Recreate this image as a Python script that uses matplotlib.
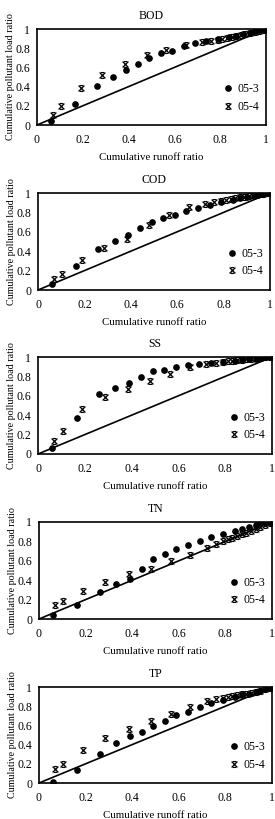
import numpy as np
import matplotlib
matplotlib.use("Agg")
import matplotlib.pyplot as plt
from matplotlib.path import Path

plt.rcParams['font.family'] = ['Liberation Serif', 'DejaVu Serif']

# cumulative runoff ratio (x) for the two events
x_053 = [0.06, 0.165, 0.26, 0.33, 0.39, 0.44, 0.49, 0.54, 0.59, 0.64, 0.69,
         0.74, 0.79, 0.84, 0.87, 0.90, 0.93, 0.95, 0.97, 0.99, 1.0]
x_054 = [0.07, 0.105, 0.19, 0.285, 0.385, 0.48, 0.565, 0.65, 0.72, 0.76, 0.79,
         0.81, 0.83, 0.85, 0.87, 0.89, 0.91, 0.93, 0.95, 0.97, 0.99, 1.0]

pollutants = ['BOD', 'COD', 'SS', 'TN', 'TP']

y_053 = {
    'BOD': [0.045, 0.215, 0.41, 0.505, 0.575, 0.64, 0.70, 0.745, 0.775, 0.82, 0.85,
            0.875, 0.895, 0.915, 0.93, 0.945, 0.96, 0.975, 0.985, 0.995, 1.0],
    'COD': [0.058, 0.245, 0.42, 0.503, 0.566, 0.638, 0.70, 0.738, 0.772, 0.814, 0.845,
            0.879, 0.91, 0.93, 0.945, 0.96, 0.97, 0.98, 0.99, 0.995, 1.0],
    'SS':  [0.065, 0.37, 0.62, 0.68, 0.728, 0.797, 0.852, 0.869, 0.893, 0.914, 0.931,
            0.941, 0.95, 0.96, 0.965, 0.975, 0.98, 0.99, 0.995, 1.0, 1.0],
    'TN':  [0.045, 0.145, 0.276, 0.359, 0.414, 0.52, 0.614, 0.669, 0.717, 0.766, 0.80,
            0.845, 0.876, 0.905, 0.93, 0.95, 0.965, 0.975, 0.985, 0.995, 1.0],
    'TP':  [0.01, 0.135, 0.30, 0.42, 0.49, 0.535, 0.594, 0.65, 0.705, 0.743, 0.79,
            0.83, 0.868, 0.90, 0.92, 0.93, 0.945, 0.96, 0.975, 0.99, 1.0],
}
y_054 = {
    'BOD': [0.107, 0.193, 0.39, 0.524, 0.631, 0.728, 0.786, 0.838, 0.866, 0.88, 0.89,
            0.90, 0.91, 0.92, 0.93, 0.94, 0.95, 0.96, 0.97, 0.98, 0.99, 1.0],
    'COD': [0.11, 0.165, 0.307, 0.428, 0.528, 0.666, 0.769, 0.852, 0.89, 0.905, 0.915,
            0.925, 0.935, 0.945, 0.955, 0.96, 0.97, 0.975, 0.985, 0.99, 0.995, 1.0],
    'SS':  [0.138, 0.234, 0.459, 0.586, 0.672, 0.755, 0.824, 0.893, 0.928, 0.94, 0.95,
            0.955, 0.96, 0.965, 0.97, 0.975, 0.98, 0.985, 0.99, 0.995, 1.0, 1.0],
    'TN':  [0.145, 0.19, 0.29, 0.38, 0.46, 0.517, 0.593, 0.655, 0.731, 0.773, 0.80,
            0.82, 0.84, 0.86, 0.875, 0.89, 0.905, 0.925, 0.945, 0.965, 0.985, 1.0],
    'TP':  [0.146, 0.198, 0.344, 0.469, 0.566, 0.642, 0.719, 0.795, 0.85, 0.878, 0.89,
            0.90, 0.91, 0.92, 0.925, 0.93, 0.94, 0.95, 0.96, 0.975, 0.99, 1.0],
}

ticks = [0, 0.2, 0.4, 0.6, 0.8, 1]
tick_labels = ['0', '0.2', '0.4', '0.6', '0.8', '1']

# x-with-bars marker (like Excel's "x")
xbar = Path([(-1, 1), (1, -1), (1, 1), (-1, -1), (-0.6, 1), (0.6, 1), (-0.6, -1), (0.6, -1)],
            [Path.MOVETO, Path.LINETO, Path.MOVETO, Path.LINETO,
             Path.MOVETO, Path.LINETO, Path.MOVETO, Path.LINETO])

W, H = 275, 819
fig = plt.figure(figsize=(W / 100, H / 100), dpi=100)

# panel boxes in pixels: left, right, top, bottom
boxes = [(37, 266, 29, 125), (38, 270, 193, 290), (38, 272, 357, 454),
         (39, 272, 522, 619), (39, 272, 687, 783)]

for name, (l, r, t, b) in zip(pollutants, boxes):
    ax = fig.add_axes([l / W, 1 - b / H, (r - l) / W, (b - t) / H])
    ax.plot([0, 1], [0, 1], color='black', lw=1.2, zorder=1)
    ax.plot(x_053, y_053[name], 'o', color='black', ms=3.8, ls='none', label='05-3', zorder=3)
    ax.plot(x_054, y_054[name], ls='none', marker=xbar, color='black', ms=4.2,
            mew=0.9, label='05-4', zorder=3)
    ax.set_xlim(0, 1)
    ax.set_ylim(0, 1)
    ax.set_xticks(ticks)
    ax.set_xticklabels(tick_labels)
    ax.set_yticks(ticks)
    ax.set_yticklabels(tick_labels)
    ax.tick_params(length=0, labelsize=8.5)
    ax.tick_params(axis='x', pad=6.5)
    ax.tick_params(axis='y', pad=5)
    for s in ax.spines.values():
        s.set_linewidth(1.2)
    ax.set_title(name, fontsize=8.5, pad=7)
    ax.set_xlabel('Cumulative runoff ratio', fontsize=7.8, labelpad=5)
    ax.set_ylabel('Cumulative pollutant load ratio', fontsize=7.2)
    ax.yaxis.set_label_coords(-0.095, 0.5)
    ax.legend(loc='center right', bbox_to_anchor=(1.0, 0.28), frameon=False, fontsize=8.5,
              handlelength=0.8, handletextpad=0.4, labelspacing=0.45, borderaxespad=0.2)

fig.savefig('out.png', dpi=100)
